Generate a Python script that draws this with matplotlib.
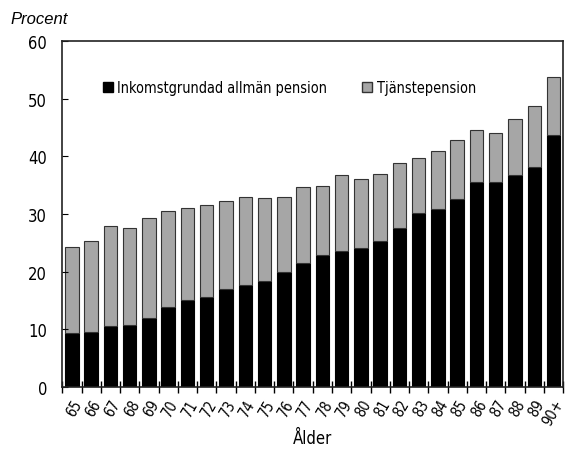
import matplotlib
matplotlib.use('Agg')
import matplotlib.pyplot as plt
from matplotlib import font_manager
from matplotlib.ticker import FixedLocator
from matplotlib.patches import Patch

# pick a narrow font if one is installed
fonts = font_manager.fontManager.ttflist
names = {f.name for f in fonts}
stretch = 'normal'
scale = 0.85
if 'Liberation Sans Narrow' in names:
    family = 'Liberation Sans Narrow'
    scale = 1.0
elif any(f.name == 'DejaVu Sans' and 'ondensed' in str(f.stretch) for f in fonts) or \
        any('DejaVuSansCondensed' in f.fname for f in fonts):
    family = 'DejaVu Sans'
    stretch = 'condensed'
    scale = 0.95
else:
    family = 'DejaVu Sans'
plt.rcParams['font.family'] = [family, 'DejaVu Sans']
plt.rcParams['font.stretch'] = stretch

# Data
ages = ['65', '66', '67', '68', '69', '70', '71', '72', '73', '74', '75', '76', '77',
        '78', '79', '80', '81', '82', '83', '84', '85', '86', '87', '88', '89', '90+']
inkomst = [9.3, 9.5, 10.5, 10.8, 12.0, 13.8, 15.1, 15.6, 17.0, 17.7, 18.4, 20.0, 21.4,
           22.8, 23.5, 24.1, 25.3, 27.5, 30.2, 30.9, 32.6, 35.6, 35.6, 36.8, 38.2, 43.7]
total = [24.2, 25.3, 27.9, 27.5, 29.3, 30.5, 31.1, 31.6, 32.3, 33.0, 32.7, 33.0, 34.6,
         34.9, 36.7, 36.1, 37.0, 38.9, 39.7, 41.0, 42.8, 44.6, 44.1, 46.4, 48.7, 53.8]
tjanste = [t - i for t, i in zip(total, inkomst)]

fig = plt.figure(figsize=(5.66, 4.52), dpi=100)
ax = fig.add_axes([0.11, 0.142, 0.885, 0.765])

x = list(range(len(ages)))
ax.bar(x, inkomst, width=0.7, color='black', edgecolor='black', linewidth=0.8)
ax.bar(x, tjanste, bottom=inkomst, width=0.7, color='#a6a6a6', edgecolor='#333333', linewidth=0.8)

ax.set_xlim(-0.5, len(ages) - 0.5)
ax.set_ylim(0, 60)
ax.set_yticks(range(0, 61, 10))
ax.tick_params(axis='y', direction='in', length=4, labelsize=12.5 * scale, pad=11)

ax.set_xticks(x)
ax.set_xticklabels(ages, rotation=60, ha='right', rotation_mode='anchor', fontsize=11 * scale)
ax.tick_params(axis='x', which='major', length=0, pad=7)
ax.xaxis.set_minor_locator(FixedLocator([i - 0.5 for i in range(len(ages) + 1)]))
ax.tick_params(axis='x', which='minor', direction='inout', length=8, width=1)

for s in ax.spines.values():
    s.set_linewidth(1.2)
    s.set_color('#222222')

ax.set_xlabel('Ålder', fontsize=12.5 * scale, labelpad=1)
fig.text(0.018, 0.948, 'Procent', fontsize=12, style='italic', family='Liberation Sans',
         stretch='normal')

handles = [Patch(facecolor='black', edgecolor='black', label='Inkomstgrundad allmän pension'),
           Patch(facecolor='#a6a6a6', edgecolor='#333333', label='Tjänstepension')]
ax.legend(handles=handles, loc='upper left', bbox_to_anchor=(0.055, 0.925), ncol=2,
          frameon=False, fontsize=11 * scale, handlelength=0.7, handleheight=0.7,
          handletextpad=0.3, columnspacing=2.4)

plt.savefig('out.png', dpi=100)
